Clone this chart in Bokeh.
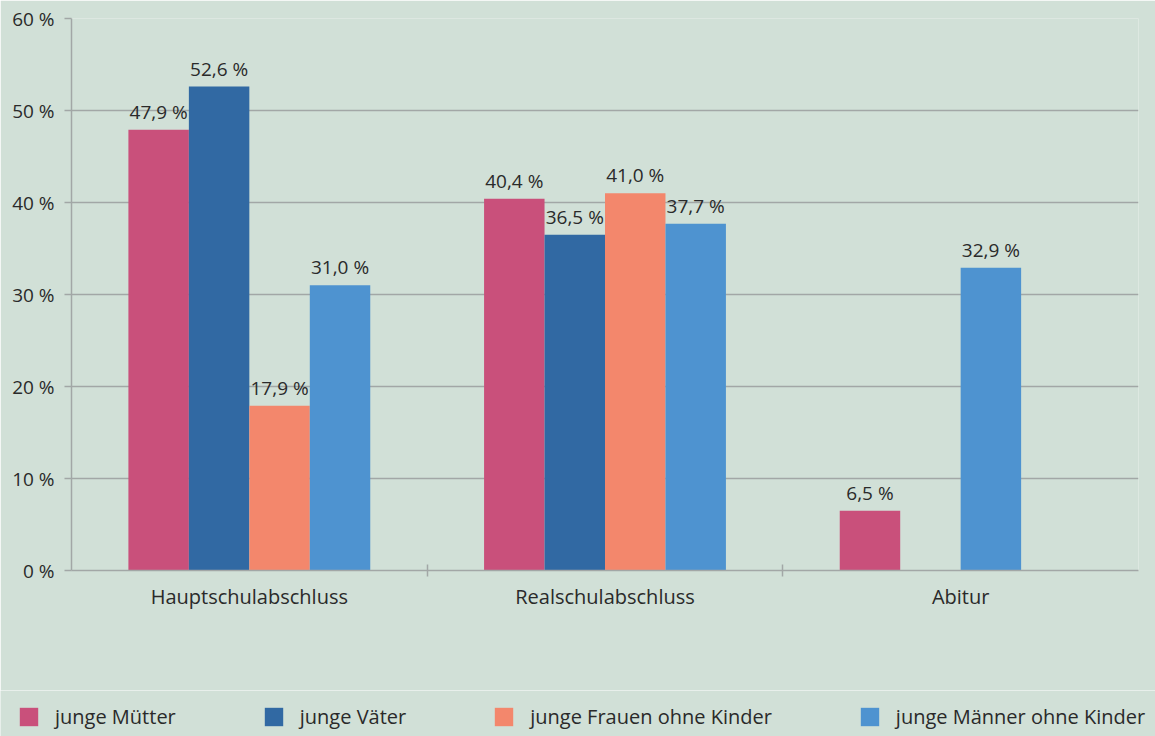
from bokeh.plotting import figure
from bokeh.layouts import column
from bokeh.models import (Range1d, FixedTicker, LinearAxis, Grid, ColumnDataSource,
                          LabelSet, Legend, LegendItem)
from bokeh.core.properties import value
from bokeh.embed import file_html
from bokeh.resources import INLINE

# ---------------- data ----------------
categories = ["Hauptschulabschluss", "Realschulabschluss", "Abitur"]
series_names = ["junge Mütter", "junge Väter", "junge Frauen ohne Kinder", "junge Männer ohne Kinder"]
muetter = [47.9, 40.4, 6.5]
vaeter = [52.6, 36.5, None]
frauen = [17.9, 41.0, None]
maenner = [31.0, 37.7, 32.9]
y_ticks = [0, 10, 20, 30, 40, 50, 60]
y_tick_labels = ["0 %", "10 %", "20 %", "30 %", "40 %", "50 %", "60 %"]

# ---------------- style ----------------
colors = ["#C9507B", "#3169A3", "#F3876C", "#4E93D0"]
BG = "#D1E0D7"
GRID = "#A2A7A6"
TXT = "#2A2A2A"
FONT = "Open Sans"
series = [muetter, vaeter, frauen, maenner]

# slot layout inside each category group (the Abitur bar of the last series sits in slot 3)
n_slots = 4
bar_w = 0.17
slot_override = {(3, 2): 2}

p = figure(width=1155, height=690, x_range=Range1d(0, len(categories)), y_range=Range1d(0, 60),
           output_backend="svg", toolbar_location=None,
           min_border_left=71, min_border_right=17, min_border_top=18, min_border_bottom=120,
           background_fill_color=BG, border_fill_color=BG, outline_line_color=None,
           x_axis_type=None, y_axis_type=None)
p.frame_align = False

# y axis + grid
yticker = FixedTicker(ticks=y_ticks)
yaxis = LinearAxis(ticker=yticker,
                   major_label_overrides={t: l for t, l in zip(y_ticks, y_tick_labels)},
                   axis_line_color=GRID, axis_line_width=1.5,
                   major_tick_line_color=GRID, major_tick_line_width=1.5,
                   major_tick_in=0, major_tick_out=7,
                   minor_tick_line_color=None,
                   major_label_standoff=10,
                   major_label_text_font=FONT, major_label_text_font_size="19px",
                   major_label_text_color=TXT)
p.add_layout(yaxis, "left")
p.add_layout(Grid(dimension=1, ticker=yticker, grid_line_color=GRID, grid_line_width=1.5))

# x axis: labels at category centres, separator ticks between categories
centers = [i + 0.5 for i in range(len(categories))]
xticker = FixedTicker(ticks=centers, minor_ticks=[i for i in range(1, len(categories))])
xaxis = LinearAxis(ticker=xticker,
                   major_label_overrides={c: n for c, n in zip(centers, categories)},
                   axis_line_color=GRID, axis_line_width=1.5,
                   major_tick_line_color=None, major_tick_out=6,
                   minor_tick_line_color=GRID, minor_tick_line_width=1.5,
                   minor_tick_in=6, minor_tick_out=6,
                   major_label_standoff=6,
                   major_label_text_font=FONT, major_label_text_font_size="20px",
                   major_label_text_color=TXT)
p.add_layout(xaxis, "below")

lx, ly, ltxt = [], [], []
for si, (vals, col) in enumerate(zip(series, colors)):
    xs, tops = [], []
    for ci, v in enumerate(vals):
        if v is None:
            continue
        slot = slot_override.get((si, ci), si)
        x = centers[ci] - n_slots * bar_w / 2 + bar_w * (slot + 0.5)
        xs.append(x)
        tops.append(v)
        lx.append(x)
        ly.append(v)
        ltxt.append(f"{v:.1f}".replace(".", ",") + " %")
    src = ColumnDataSource(dict(x=xs, top=tops))
    p.vbar(x="x", top="top", width=bar_w, source=src, fill_color=col, line_color=None)

lab_src = ColumnDataSource(dict(x=lx, y=ly, text=ltxt))
p.add_layout(LabelSet(x="x", y="y", text="text", source=lab_src, text_align="center",
                      text_baseline="alphabetic", y_offset=11, text_font=value(FONT),
                      text_font_size=value("19px"), text_color=value(TXT)))

# ---------------- legend strip ----------------
lg = figure(width=1155, height=46, x_range=Range1d(0, 1), y_range=Range1d(0, 1),
            output_backend="svg", toolbar_location=None,
            min_border_left=0, min_border_right=0, min_border_top=0, min_border_bottom=0,
            background_fill_color=BG, border_fill_color=BG, outline_line_color=None,
            x_axis_type=None, y_axis_type=None)
lg.frame_align = False
items = []
for name, col in zip(series_names, colors):
    # zero-height placeholder bar: only its legend swatch is visible
    r = lg.vbar(x=[0], top=[0], width=0.01, fill_color=col, line_color=None)
    items.append(LegendItem(label=name, renderers=[r]))
legend = Legend(items=items, orientation="horizontal", location=(17, 6),
                padding=0, margin=0, spacing=86,
                glyph_width=23, glyph_height=23, label_standoff=15, label_height=23,
                background_fill_alpha=0, border_line_color=None,
                label_text_font=FONT, label_text_font_size="20px", label_text_color=TXT)
lg.add_layout(legend)

layout = column(p, lg, spacing=0)
open("out.html", "w").write(file_html(layout, INLINE))
